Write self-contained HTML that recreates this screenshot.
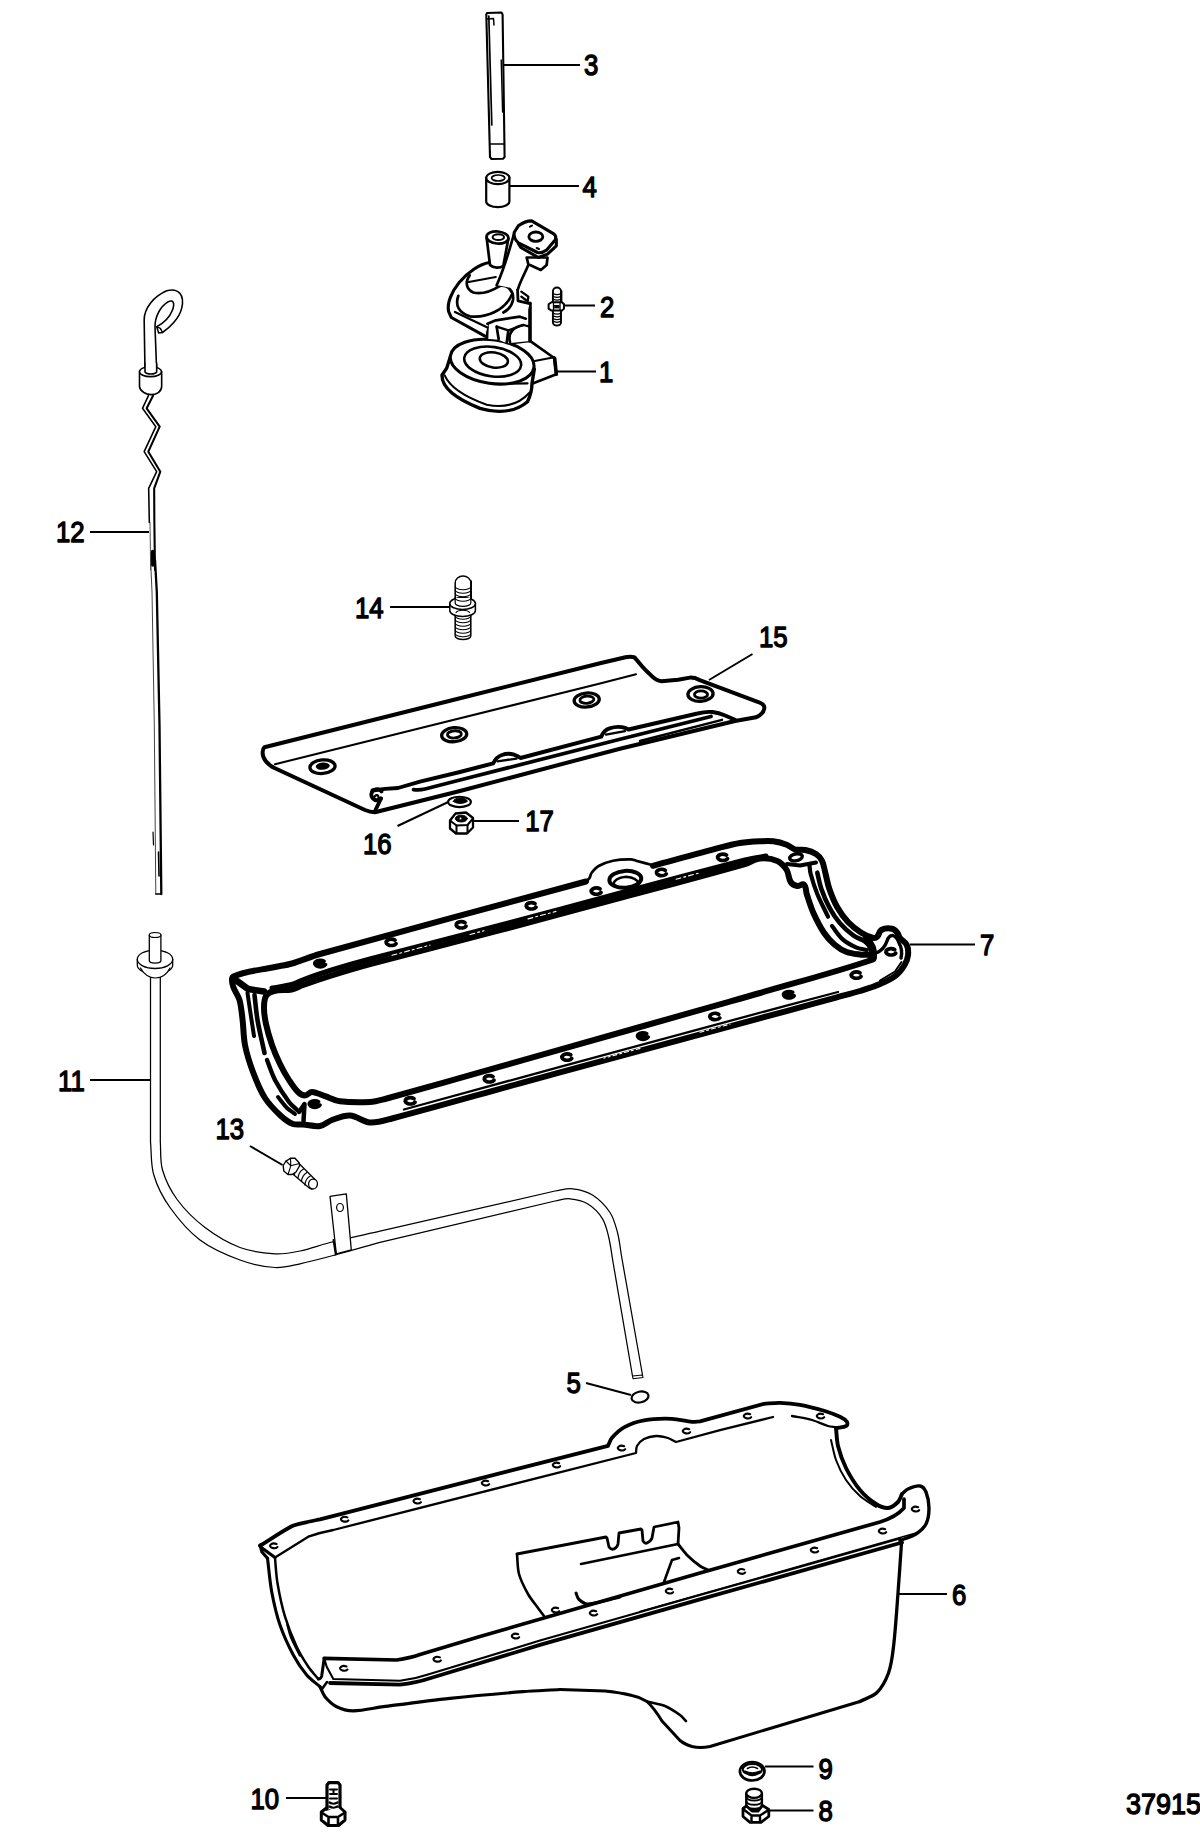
<!DOCTYPE html>
<html><head><meta charset="utf-8"><title>Oil pan and oil pump</title>
<style>
html,body{margin:0;padding:0;background:#fff}
body{width:1200px;height:1832px;overflow:hidden}
svg{display:block}
text{font-family:"Liberation Sans",sans-serif;fill:#000}
.t text{stroke:#000;stroke-width:1.3px;vector-effect:non-scaling-stroke;stroke-linejoin:round}
.l{stroke:#000;fill:none}
g.p{fill:none;stroke:#000;stroke-linecap:round;stroke-linejoin:round}
.w{fill:#fff}
</style></head><body>
<svg width="1200" height="1832" viewBox="0 0 1200 1832">
<rect width="1200" height="1832" fill="#fff"/>
<g id="leaders" class="l" stroke-width="2">
<path d="M504 65H580"/><path d="M510 186H579"/><path d="M563 305.5H595"/><path d="M556 371.5H596"/>
<path d="M90 532H149"/><path d="M390 607H450"/><path d="M752.5 654L709 680"/><path d="M397.5 826L452.5 800"/>
<path d="M474 821H519"/><path d="M910 944.5H975"/><path d="M90 1080H150"/><path d="M250 1146L282.5 1165"/>
<path d="M586 1383L631 1395"/><path d="M899 1594H947"/><path d="M765 1766.5H813.5"/><path d="M770 1810.5H813.5"/>
<path d="M286 1798H326"/>
</g>
<g id="labels" font-size="29.6" class="t">
<text transform="translate(584.0,75.4) scale(.87,1)">3</text>
<text transform="translate(582.5,196.6) scale(.87,1)">4</text>
<text transform="translate(600.0,316.6) scale(.87,1)">2</text>
<text transform="translate(599.0,382.4) scale(.87,1)">1</text>
<text transform="translate(56.0,542.4) scale(.87,1)">12</text>
<text transform="translate(58.0,1090.8) scale(.87,1)">11</text>
<text transform="translate(355.0,618.1) scale(.87,1)">14</text>
<text transform="translate(759.0,646.8) scale(.87,1)">15</text>
<text transform="translate(363.0,854.1) scale(.87,1)">16</text>
<text transform="translate(525.2,831.4) scale(.87,1)">17</text>
<text transform="translate(980.0,955.1) scale(.87,1)">7</text>
<text transform="translate(215.5,1139.1) scale(.87,1)">13</text>
<text transform="translate(566.5,1392.8) scale(.87,1)">5</text>
<text transform="translate(952.0,1604.6) scale(.87,1)">6</text>
<text transform="translate(818.5,1778.6) scale(.87,1)">9</text>
<text transform="translate(818.5,1820.6) scale(.87,1)">8</text>
<text transform="translate(250.5,1808.6) scale(.87,1)">10</text>
<text font-size="30" transform="translate(1126.0,1814.4) scale(.9,1)">37915</text>
</g>

<g id="shaft3" class="p" stroke-width="2.1">
<path class="w" d="M486.3 14.5L487 13L501.5 12.5L502.6 14.5L504.6 157L503 158.8L491.5 159L490 157Z"/>
<path d="M488.8 16L491.8 125" stroke-width="1.7"/>
<path d="M501.2 60L502.6 112" stroke-width="1.4"/>
<path d="M490 144H504.4" stroke-width="1.7"/>
<path d="M487 19L493.5 18.5L494 25" stroke-width="1.5"/>
</g>
<g id="bush4" class="p" stroke-width="2.2">
<path class="w" d="M486.2 178V201.5A11.6 5.6 0 0 0 509.4 201.5V178"/>
<ellipse class="w" cx="497.8" cy="178" rx="11.6" ry="6.2"/>
<ellipse cx="498.2" cy="178" rx="6.6" ry="3" stroke-width="1.7"/>
</g>
<g id="stud2" class="p" stroke-width="1.9">
<path class="w" d="M552.9 291.5A4 4 0 0 1 561 291.5V322.5A4 3 0 0 1 552.9 322.5Z"/>
<path d="M553 293.5q4 2.4 8 0M553 296.2q4 2.4 8 0M553 298.9q4 2.4 8 0M553 313q4 2.4 8 0M553 315.7q4 2.4 8 0M553 318.4q4 2.4 8 0M553 321.1q4 2.4 8 0" stroke-width="1.2"/>
<path d="M561.6 291V301" stroke-width="1.6"/>
<path class="w" d="M548.6 304.3L551.5 302.2H562L564 304.3V308.6L562 310.6H551.5L548.6 308.6Z" stroke-width="2"/>
<path d="M553.5 303V310M560 303V310" stroke-width="1.3"/>
<path d="M554.5 305.5h4.5v2.4h-4.5z" fill="#000" stroke-width="1"/>
</g>

<g id="pump1" class="p" transform="translate(430,210) scale(.166667)" stroke-width="16.2">
<!-- bracket right of screen -->
<path class="w" d="M470 800L600 785L745 888L758 985L612 1042L560 960Z"/>
<path d="M628 906L745 884" stroke-width="12.3"/>
<path d="M748 890L758 985" stroke-width="21.6"/>
<!-- screen bowl -->
<path class="w" d="M122 880L100 950L72 990C70 1060 150 1130 300 1190C420 1225 520 1205 585 1150C605 1110 612 1070 612 1040L626 955Z" stroke-width="20.1"/>
<path d="M88 992C120 1065 220 1125 340 1168C450 1190 540 1160 598 1095" stroke-width="12.3"/>
<path d="M375 1043L585 1040" stroke-width="13.9"/>
<ellipse class="w" cx="373" cy="910" rx="253" ry="131" transform="rotate(8 373 910)" stroke-width="18.5"/>
<ellipse cx="376" cy="910" rx="172" ry="88" transform="rotate(8 376 910)" stroke-width="15.4"/>
<ellipse cx="383" cy="900" rx="85" ry="45" transform="rotate(8 383 900)" stroke-width="15.4"/>
<!-- column between body and screen -->
<path class="w" d="M345 680L342 772L410 778L462 800L600 786L600 560L530 540L345 640Z" stroke="none"/>
<path d="M345 680L342 770M400 700L412 775M470 722L460 798"/>
<path d="M400 700L470 722L560 690L600 700" stroke-width="13.9"/>
<path d="M480 792C465 740 500 700 560 690"/>
<path d="M600 560V786" stroke-width="21.6"/>
<!-- pump body dome -->
<path class="w" d="M355 315C300 325 230 370 175 435C130 490 100 560 112 610L128 645L330 757L350 682L540 640L575 650L598 560L525 540L525 470L590 330L500 150L440 300Z" stroke="none"/>
<path d="M355 315C300 325 230 370 175 435C130 490 100 560 112 610L128 645L330 757" stroke-width="18.5"/>
<path d="M150 612L345 705" stroke-width="13.9"/>
<path d="M345 682L395 662L540 640L575 652"/>
<path d="M238 392C210 430 215 475 260 495C320 510 380 480 420 455"/>
<path d="M232 432L395 402" stroke-width="12.3"/>
<path d="M170 515C150 570 170 615 240 638C340 650 450 600 490 510" />
<path d="M420 455C470 450 505 490 498 540C490 580 470 600 440 615"/>
<!-- right of body details -->
<path d="M525 470L528 545L598 562" stroke-width="16.9"/>
<path d="M548 490L590 520L585 555M548 520L575 540" stroke-width="13.9"/>
<!-- left tube -->
<path class="w" d="M340 168L360 330C380 350 420 350 440 335L470 172Z"/>
<ellipse class="w" cx="405" cy="165" rx="66" ry="36" transform="rotate(5 405 165)"/>
<ellipse cx="410" cy="163" rx="34" ry="17" stroke-width="12.3"/>
<!-- arm -->
<path class="w" d="M500 150C480 230 440 360 400 450L525 475L590 330L560 250Z" stroke="none"/>
<path d="M502 150C480 230 440 360 400 452"/>
<path d="M590 330C565 390 540 430 528 475"/>
<!-- block under head -->
<path class="w" d="M580 285L590 325L665 360L700 330L705 285Z"/>
<!-- head plate -->
<path class="w" d="M530 200L545 225L650 285L705 265L758 215L758 175L700 200Z" stroke-width="18.5"/>
<path class="w" d="M505 135L530 95Q570 65 610 65L745 145Q760 160 752 178L700 240Q670 262 645 255L530 197Q500 170 505 135Z" stroke-width="18.5"/>
<ellipse cx="635" cy="160" rx="42" ry="28" stroke-width="16.9"/>
<path d="M600 100l12 -6M640 228l14 6" stroke-width="12.3"/>
</g>

<g id="dip12a" class="p" transform="translate(40,270) scale(.166667)" stroke-width="9.6">
<!-- handle loop -->
<path d="M630 605L625 300C625 230 680 160 760 125C830 105 870 150 850 230C835 290 780 345 735 375"/>
<path d="M700 605L690 340C690 280 720 220 770 190C800 175 810 200 795 240C775 290 740 320 700 340"/>
<path d="M700 340L712 378L735 375L722 350Z" stroke-width="9"/>
<!-- collar -->
<path class="w" d="M597 612V700C600 730 640 748 665 748C700 748 728 730 730 700V612"/>
<ellipse class="w" cx="663" cy="610" rx="66" ry="30"/>
<path class="w" d="M630 560V612C640 625 690 625 700 612V560Z" stroke="none"/>
<path d="M630 560V612C640 628 690 628 700 612V560"/>
<!-- zigzag -->
<path d="M650 755L615 830L695 940L625 1090L700 1210L652 1310L656 1515" stroke-width="9.4"/>
<path d="M660 1515L664 1800" stroke-width="5.5" stroke="#444"/>
<path d="M678 755L640 830L718 940L650 1090L722 1210L685 1310L686 1500L690 1800" stroke-width="12.5"/>
<path d="M676 1690V1770" stroke-width="22"/>
</g>
<g id="dip12b" class="p">
<path d="M150.6 560L152 592L154.3 725L155.8 894" stroke-width="1" stroke="#444"/>
<path d="M155 560L156.8 592L159.5 725L161.3 894" stroke-width="2.3"/>
<path d="M155.8 894H161.3" stroke-width="1.4"/>
<path d="M158.5 852L159 876" stroke-width="1.6"/>
<path d="M153 832L153.5 845" stroke-width="1.2"/>
</g>

<g id="tube11" class="p" stroke-width="1.25">
<path d="M150.5 972V1142C151.6 1152.9 150.6 1164.5 153.8 1175.0C157.2 1186.5 163.0 1197.7 170.0 1207.5C178.5 1219.4 188.3 1231.2 200.0 1240.0C211.8 1248.9 226.1 1254.9 240.0 1260.0C251.1 1264.1 263.2 1266.8 275.0 1267.5C283.3 1268.0 291.8 1265.5 300.0 1263.8C311.7 1261.3 323.5 1258.1 335.0 1255.0C349.9 1251.0 365.1 1246.5 380.0 1242.3L555 1201C560.0 1200.3 565.0 1198.3 570.0 1198.8C576.0 1199.3 582.4 1200.6 587.5 1203.8C593.5 1207.4 598.8 1212.8 602.5 1218.8C606.0 1224.3 607.2 1231.2 608.8 1237.5C610.7 1245.5 611.6 1253.9 613.0 1262.0L632.5 1376"/>
<path d="M160.3 972V1142C161.0 1151.2 159.9 1161.1 162.5 1170.0C165.6 1180.6 170.9 1191.1 177.5 1200.0C185.1 1210.3 194.8 1219.7 205.0 1227.5C215.6 1235.5 227.5 1242.8 240.0 1247.5C251.0 1251.6 263.3 1253.1 275.0 1253.8C283.3 1254.2 291.9 1252.7 300.0 1251.0C310.1 1248.9 320.0 1245.0 330.0 1242.5C346.4 1238.4 363.5 1234.9 380.0 1231.2L555 1191C560.8 1190.3 566.7 1188.1 572.5 1188.8C579.4 1189.5 586.7 1191.3 592.5 1195.0C599.4 1199.4 605.5 1205.7 610.0 1212.5C613.9 1218.4 615.7 1225.7 617.5 1232.5C619.5 1240.1 620.2 1248.2 621.5 1256.0L642.5 1375"/>
<path d="M632.5 1376L642.5 1375L643 1377.5L633 1378.7Z" stroke-width="1.1"/>
<!-- top -->
<path class="w" d="M137.3 959.5V965A17.7 9.2 0 0 0 172.7 965V959.5" stroke-width="1.3"/>
<path class="w" d="M140.5 968C145 976 150 978 155.4 978C161 978 166 976 170 968" stroke-width="1.2"/>
<ellipse class="w" cx="155" cy="959.3" rx="17.7" ry="9.2" stroke-width="1.3"/>
<path class="w" d="M149.3 935V960.5A5.8 2.6 0 0 0 160.9 960.5V935" stroke-width="1.3"/>
<ellipse class="w" cx="155.1" cy="935" rx="5.8" ry="2.5" stroke-width="1.2"/>
<!-- bracket -->
<path class="w" d="M330 1196.3L346.3 1193.8L351.3 1250L336.3 1253.8Z" stroke-width="1.3"/>
<path d="M333.5 1240L335.8 1254.5" stroke-width="2"/>
<ellipse cx="340" cy="1207.5" rx="3.4" ry="4" stroke-width="1.2"/>
</g>
<g id="ball5" class="p" stroke-width="2.2">
<ellipse cx="640" cy="1397" rx="8.6" ry="5.4" transform="rotate(-12 640 1397)"/>
</g>

<g id="baffle15" class="p" stroke-width="4">
<!-- outline -->
<path class="w" d="M264.4 747.3L450 700.8L600 663.3L625.5 657.2Q631 656 634.5 657.4L642 666.3Q646 671 651 675.3Q656 680.5 661.5 681.2L678 679.8L690 677.6Q695 677.5 699 679.8L759 702.3Q765 705 764.3 708.5Q763.5 714 756 717.3L735 721L620 748.7L460 791L400 806L375 812.2Q370 812 365 810L275 768.3Q266 764 263.3 756.7Q261.5 750 264.4 747.3Z"/>
<!-- fold line -->
<path d="M275 764.2L450 720.8L600 683.5L636 674.2" stroke-width="2.1"/>
<!-- channel line a with bumps -->
<path d="M381 798.5L375.5 810" stroke-width="3.9"/>
<path d="M381.5 791.5A5.6 5.6 0 1 0 381 798.5" stroke-width="3.9"/>
<path d="M372.5 790.5Q385 788.5 398 788L420 781.7L460 772L493.3 763.3Q496 757 502 755Q508 752.6 514 754.6Q518 756 520.5 758L601.3 736.7Q604 730 609.5 728.4Q616 726.2 622 727.2Q626 728 628.5 729.5L697.5 713.5Q706 711.3 712.5 712Q719 713 724.5 715.2L735 719.8" stroke-width="3.9"/>
<path d="M497.5 761.3L516.5 758.6M606 734.6L625 731.2" stroke-width="2.3"/>
<!-- line b -->
<path d="M413.5 789.6Q420 790.2 425 789L460 780L620 739.3L711 716.5" stroke-width="3.7"/>
<!-- line between b and c -->
<path d="M640 741L722 719.8" stroke-width="2.4"/>
<path d="M376.7 795.2a2.2 3 20 1 0 0.1 0" stroke-width="2.3"/>
</g>
<g id="bholes" class="p" stroke-width="3.3">
<ellipse cx="322.5" cy="766.7" rx="12.6" ry="6.8" transform="rotate(-5 322.5 766.7)"/>
<ellipse cx="322.8" cy="766.2" rx="7" ry="3.6" fill="#000" stroke="none" transform="rotate(-5 322.5 766.7)"/>
<ellipse cx="454.2" cy="734.7" rx="12.6" ry="7" transform="rotate(-5 454.2 734.7)"/>
<ellipse cx="454.4" cy="734.4" rx="7" ry="3.6" stroke-width="2.8" transform="rotate(-5 454.2 734.7)"/>
<ellipse cx="586.7" cy="700" rx="12.6" ry="7" transform="rotate(-5 586.7 700)"/>
<ellipse cx="586.9" cy="699.7" rx="7" ry="3.6" stroke-width="2.8" transform="rotate(-5 586.7 700)"/>
<ellipse cx="700.5" cy="694" rx="12.6" ry="7.3" transform="rotate(-3 700.5 694)"/>
<ellipse cx="701" cy="694.5" rx="6.6" ry="3.6" stroke-width="2.8"/>
</g>

<g id="stud14" class="p" stroke-width="1.3">
<path class="w" d="M455.2 583A7.8 7 0 0 1 470.8 583V636A7.8 3.5 0 0 1 455.2 636Z" stroke-width="1.5"/>
<path d="M455.2 586.5a7.8 3.2 0 0 0 15.6 0M455.2 590a7.8 3.2 0 0 0 15.6 0M455.2 593.5a7.8 3.2 0 0 0 15.6 0M455.2 597a7.8 3.2 0 0 0 15.6 0M455.2 600.5a7.8 3.2 0 0 0 15.6 0M455.2 616a7.8 3.2 0 0 0 15.6 0M455.2 619.5a7.8 3.2 0 0 0 15.6 0M455.2 623a7.8 3.2 0 0 0 15.6 0M455.2 626.5a7.8 3.2 0 0 0 15.6 0M455.2 630a7.8 3.2 0 0 0 15.6 0M455.2 633.5a7.8 3.2 0 0 0 15.6 0" stroke-width="1.1"/>
<path d="M471.3 581V598" stroke-width="1.4"/>
<path class="w" d="M449.8 603.5V610.5A12.8 6 0 0 0 475.4 610.5V603.5" stroke-width="1.5"/>
<ellipse class="w" cx="462.6" cy="603.5" rx="12.8" ry="6" stroke-width="1.5"/>
<path class="w" d="M455.2 598V603A7.8 3.4 0 0 0 470.8 603V598" stroke-width="1.2"/>
<path d="M455.2 598a7.8 3.2 0 0 0 15.6 0" stroke-width="1.1"/>
<path d="M456 612.5a7 3 0 0 1 13.6 0" stroke-width="1.1"/>
</g>
<g id="washer16" class="p" stroke-width="2.1">
<ellipse class="w" cx="459.5" cy="801.9" rx="11.4" ry="5.2"/>
<path d="M453.3 801.5A7 3.6 0 0 1 467.3 801.5Q460 805.5 453.3 801.5Z" fill="#000" stroke-width="1"/>
</g>
<g id="nut17" class="p" stroke-width="2.3">
<path class="w" d="M450 820.5L455.5 813.5L466 812.5L473 818L473 827.5L467 833.5L456 833.5L450 828.5Z"/>
<path d="M450 820.5L456.5 825.5L467.5 825L473 818.5" stroke-width="2"/>
<path d="M456.5 825.5V833M467.5 825V833" stroke-width="2"/>
<ellipse cx="461.3" cy="818.6" rx="6" ry="3.4" fill="#000" stroke-width="1"/>
<circle cx="460.5" cy="818.4" r="1" fill="#fff" stroke="none"/>
</g>
<g id="bolt13" class="p" stroke-width="1.3">
<path class="w" d="M298 1162.5L315 1179.5A4.5 5 0 0 1 309 1187.8L291.5 1173Z"/>
<ellipse class="w" cx="313" cy="1184" rx="4.4" ry="4.9" transform="rotate(10 313 1184)"/>
<path d="M300 1165.5q-5 3 -5.5 9M303.5 1169q-5 3 -5.5 9M307 1172.5q-5 3 -5.5 9M310.3 1176q-5 3 -5.5 9" stroke-width="1.2"/>
<path class="w" d="M283.2 1165.5L286 1161L290.5 1158.3L295 1158.3L299.3 1163L299.5 1166L296 1172L292 1174.5L288 1174.5L283.8 1171Z" stroke-width="1.4"/>
<path d="M290.5 1158.3L290.8 1165.8L288 1174.5M290.8 1165.8L299.3 1163.5M286 1161L290.8 1165.8" stroke-width="1.1"/>
</g>

<g id="gasket7" class="p" stroke-width="6">
<path d="M653.0 865.8C675.1 859.8 697.8 853.4 720.0 847.6C726.6 845.9 733.3 844.1 740.0 843.0C746.5 842.0 753.4 841.6 760.0 841.3C764.4 841.1 768.9 840.7 773.3 841.3C777.8 841.9 782.4 843.1 786.7 844.7C789.6 845.8 791.8 848.5 794.7 849.3C798.1 850.3 801.9 849.2 805.3 850.0C809.0 850.8 812.8 852.0 816.0 854.0C818.5 855.6 820.7 858.0 822.0 860.7C823.8 864.4 824.3 868.7 825.3 872.7C826.7 878.0 827.5 883.6 829.3 888.7C831.5 895.0 834.0 901.5 837.3 907.3C840.2 912.5 843.9 917.6 848.0 922.0C851.9 926.1 856.5 929.7 861.3 932.7C865.0 935.0 869.1 937.0 873.3 938.0C874.6 938.3 876.3 937.7 877.3 936.7C879.1 934.9 879.0 931.2 881.3 930.0C884.4 928.3 888.5 928.1 892.0 928.7C894.2 929.1 895.9 931.0 897.3 932.7C898.6 934.2 898.8 936.5 900.0 938.0C901.9 940.5 905.4 941.9 906.7 944.7C908.2 947.9 908.4 951.8 908.0 955.3C907.7 958.6 906.4 961.9 904.7 964.7C902.4 968.6 899.6 972.5 896.0 975.3C891.3 979.0 885.5 981.6 880.0 984.0C873.6 986.8 866.7 988.9 860.0 991.0C851.8 993.5 843.2 995.5 835.0 997.8C819.3 1002.1 803.2 1006.6 787.5 1010.8C712.4 1031.1 635.1 1052.0 560.0 1072.3C546.8 1075.9 533.2 1079.7 520.0 1083.3C477.8 1094.9 434.4 1107.4 392.0 1118.5C384.9 1120.4 377.4 1123.0 370.0 1122.5C363.0 1122.0 357.0 1116.0 350.0 1115.5C343.9 1115.1 337.8 1118.0 332.0 1120.0C327.8 1121.5 324.4 1125.3 320.0 1126.0C314.4 1126.9 308.6 1124.9 303.0 1124.5C299.7 1124.3 296.1 1125.2 293.0 1124.0C288.6 1122.3 284.5 1119.2 281.0 1116.0C275.2 1110.6 269.3 1104.7 265.0 1098.0C259.9 1090.0 256.3 1080.8 253.0 1072.0C249.7 1063.3 246.8 1054.1 245.0 1045.0C243.4 1036.9 243.6 1028.2 242.6 1020.0C241.8 1013.4 241.3 1006.4 239.5 1000.0C238.1 995.1 234.3 990.9 233.0 986.0C232.2 983.0 230.6 977.8 233.5 976.5C246.3 970.7 261.3 970.0 275.0 967.0C280.6 965.8 286.5 965.1 292.0 963.5C301.4 960.8 310.6 956.6 320.0 954.0C407.6 929.6 498.2 905.4 586.0 881.5" stroke-width="6"/>
<path d="M586.0 881.5C587.2 880.3 588.6 879.4 589.5 878.0C590.5 876.5 590.4 874.4 591.5 873.0C593.5 870.4 595.8 867.6 598.7 866.0C603.1 863.5 608.1 861.7 613.0 860.7C618.7 859.5 624.8 859.2 630.7 859.3C632.9 859.3 634.9 860.4 637.0 861.0C642.3 862.4 647.7 863.9 653.0 865.3" stroke-width="2.7"/>
<path d="M266.0 996.0C267.6 993.3 271.0 991.8 274.0 991.0C279.7 989.6 286.0 990.6 291.7 989.5C295.4 988.8 298.9 986.6 302.5 985.3C311.5 982.1 320.9 978.9 330.0 976.0C343.1 971.9 356.7 967.8 370.0 964.2C412.8 952.7 457.1 941.5 500.0 930.2C541.3 919.2 583.8 907.8 625.0 896.7C664.6 886.0 705.5 875.2 745.0 864.0C750.1 862.6 754.7 859.0 760.0 858.5C765.7 858.0 772.0 858.7 777.3 861.0C781.2 862.7 784.4 866.4 786.7 870.0C788.9 873.5 788.4 878.5 790.7 882.0C792.1 884.1 794.8 885.5 797.3 886.0C799.5 886.4 802.3 883.2 804.0 884.7C806.4 886.8 805.7 891.0 806.7 894.0C808.8 900.2 810.6 906.7 813.3 912.7C816.4 919.5 819.8 926.5 824.0 932.7C826.9 937.1 830.7 941.3 834.7 944.7C838.2 947.7 842.4 950.4 846.7 952.0C851.3 953.7 856.4 954.0 861.3 954.7C864.4 955.1 867.8 954.1 870.7 955.3C872.2 955.9 874.5 959.0 873.0 959.5C836.2 972.0 797.3 982.1 760.0 993.0C746.8 996.9 733.2 1000.6 720.0 1004.3C667.2 1019.3 612.8 1034.7 560.0 1049.7C540.2 1055.3 519.8 1061.1 500.0 1066.7C462.1 1077.4 423.0 1088.7 385.0 1099.0C380.1 1100.3 375.0 1101.8 370.0 1102.0C360.1 1102.5 349.8 1102.5 340.0 1101.2C334.8 1100.5 330.0 1097.8 325.0 1096.2C320.7 1094.8 316.5 1092.2 312.0 1092.0C309.4 1091.9 307.6 1095.5 305.0 1095.5C302.4 1095.5 299.9 1093.8 298.0 1092.0C294.4 1088.6 291.7 1084.2 289.0 1080.0C285.7 1074.9 282.6 1069.4 280.0 1064.0C277.0 1057.9 274.2 1051.4 272.0 1045.0C269.6 1038.2 267.5 1031.0 266.0 1024.0C264.9 1018.8 264.0 1013.3 264.0 1008.0C264.0 1004.0 264.0 999.5 266.0 996.0Z" stroke-width="6"/>
<path d="M272.0 988.0C278.5 986.8 285.3 986.2 291.7 984.5C295.4 983.5 298.9 981.3 302.5 980.0C311.5 976.7 320.8 973.4 330.0 970.5C343.1 966.4 356.7 962.5 370.0 959.0C412.8 947.6 457.1 936.5 500.0 925.2C541.3 914.3 583.7 902.7 625.0 891.7C664.6 881.2 705.3 870.1 745.0 860.0C751.8 858.3 759.1 857.3 766.0 856.0" stroke-width="5"/>
<path d="M392 955.3L430 945.1M528 918.9L556 911.4M676 879.2L700 872.8M470 934.5L484 930.7" stroke="#fff" stroke-width="1.1" stroke-dasharray="5 3 2 3"/>
<path d="M838 992L787.5 1005.3L560 1066.8L520 1077.8L404 1109.5" stroke-width="2.3"/>
<path d="M640 1048.4L604 1058.1M700 1032.2L730 1024.1" stroke="#fff" stroke-width="1.1" stroke-dasharray="4 3 2 3"/>
<path d="M247.5 993.0C248.3 998.6 249.2 1004.4 250.0 1010.0C251.3 1018.6 252.7 1027.4 254.0 1036.0" stroke-width="4"/>
<path d="M254.5 995.0C255.5 1003.2 256.1 1011.8 257.5 1020.0C259.4 1031.0 262.2 1042.1 264.5 1053.0" stroke-width="4.6"/>
<path d="M267.0 1060.0C269.6 1066.6 271.7 1073.7 275.0 1080.0C279.0 1087.6 283.9 1095.1 289.0 1102.0C291.2 1105.0 294.4 1107.4 297.0 1110.0" stroke-width="4.4"/>
<path d="M278.0 1097.0C281.0 1100.6 283.7 1104.7 287.0 1108.0C289.3 1110.3 292.4 1112.0 295.0 1114.0" stroke-width="4"/>
<path d="M237 981L248 989L264 991.5" stroke-width="6.5"/>
<path d="M299 1112L304.5 1104L303.5 1121" stroke-width="4.5"/>
<path d="M809.3 864.0C809.8 867.3 809.8 870.8 810.7 874.0C812.5 880.7 814.7 887.6 817.3 894.0C820.4 901.7 824.5 909.2 828.0 916.7" stroke-width="4.2"/>
<path d="M832.0 926.0C835.5 930.4 838.5 935.6 842.7 939.3C846.5 942.7 851.3 945.2 856.0 947.3C859.3 948.8 863.2 949.1 866.7 950.0" stroke-width="4.2"/>
<path d="M817.3 872.7C818.6 878.0 819.5 883.6 821.3 888.7C823.5 895.0 826.1 901.4 829.3 907.3C832.3 912.9 835.9 918.5 840.0 923.3C843.8 927.8 848.5 931.9 853.3 935.3C857.3 938.1 862.3 939.8 866.7 942.0" stroke-width="4.6"/>
<path d="M787 864L800 865.5L816 862.5" stroke-width="4"/>
<ellipse cx="796" cy="857.3" rx="6.4" ry="3.4" transform="rotate(-12 796 857.3)" stroke-width="3.4"/>
<path d="M866 940Q874 946 873 957" stroke-width="8"/>
<path d="M876 953Q884 950 887 941Q889 935 893 935.5Q897 937 899 943Q903 950 901 958" stroke-width="3.4"/>
<path d="M901.5 962L895 971.5L880 980.5" stroke-width="2"/>
<ellipse cx="625.3" cy="879.3" rx="16" ry="8.4" stroke-width="4" transform="rotate(-4 625.3 879.3)"/>
<path d="M613.5 884.5Q614 878 626 876.8Q637 877.5 639 884M613.5 884.5Q617 888 623 887.5" stroke-width="2.6"/>
</g>
<g id="gholes" class="p" stroke-width="3.8">
<path d="M324.2 961.1a5.6 3.4 0 1 0 1.5 3.4l-4.5 -.4l.3 -2.4z" fill="#000" stroke-width="3.4"/>
<path d="M395.0 940.1a5.2 3.1 0 1 0 1 3.6"/>
<path d="M465.0 922.6a5.2 3.1 0 1 0 1 3.6"/>
<path d="M535.0 903.6a5.2 3.1 0 1 0 1 3.6"/>
<path d="M600.0 888.9a5.2 3.1 0 1 0 1 3.6"/>
<path d="M665.3 870.3a5.2 3.1 0 1 0 1 3.6"/>
<path d="M726.5 855.1a5.2 3.1 0 1 0 1 3.6"/>
<path d="M318.7 1101.6a5.6 3.4 0 1 0 1.5 3.4l-4.5 -.4l.3 -2.4z" fill="#000" stroke-width="3.4"/>
<path d="M414.0 1098.6a5.2 3.1 0 1 0 1 3.6"/>
<path d="M493.0 1076.6a5.2 3.1 0 1 0 1 3.6"/>
<path d="M570.7 1054.9a5.2 3.1 0 1 0 1 3.6"/>
<path d="M646.9 1033.6a5.6 3.4 0 1 0 1.5 3.4l-4.5 -.4l.3 -2.4z" fill="#000" stroke-width="3.4"/>
<path d="M718.7 1014.3a5.2 3.1 0 1 0 1 3.6"/>
<path d="M792.9 992.3a5.6 3.4 0 1 0 1.5 3.4l-4.5 -.4l.3 -2.4z" fill="#000" stroke-width="3.4"/>
<path d="M860.0 972.9a5.2 3.1 0 1 0 1 3.6"/>
<path d="M894.7 949.6a5.2 3.1 0 1 0 1 3.6"/>
</g>

<g id="pan6" class="p" stroke-width="2.6">
<path transform="translate(0,.8)" d="M260.0 1545.0C268.4 1539.9 283.0 1530.0 291.7 1525.5C295.2 1523.7 302.2 1522.4 306.0 1521.5C309.7 1520.6 316.3 1519.3 320.0 1518.5 L608 1445 C609.2 1442.6 610.3 1439.0 612.0 1437.0C615.1 1433.4 619.8 1428.8 624.0 1426.5C629.5 1423.5 637.8 1420.6 644.0 1419.5C652.2 1418.0 663.7 1417.7 672.0 1418.0C678.0 1418.2 686.0 1420.5 692.0 1421.0C694.4 1421.2 697.6 1420.6 700.0 1420.5 L764 1403 C768.8 1402.7 775.2 1401.9 780.0 1402.0C786.0 1402.2 794.1 1402.9 800.0 1404.0C807.2 1405.3 817.0 1407.9 824.0 1410.0C828.9 1411.5 835.4 1413.8 840.0 1416.0C842.3 1417.1 845.5 1418.9 847.0 1421.0C847.7 1422.0 847.5 1424.4 846.5 1425.0C843.7 1426.6 839.1 1426.6 836.0 1427.3" stroke-width="3.8"/>
<path d="M275 1557.5L308.3 1536.7Q320 1532.5 333.3 1530L636 1453C636.3 1450.9 636.0 1447.8 637.0 1446.0C638.5 1443.4 641.4 1440.4 644.0 1439.0C647.3 1437.3 652.3 1436.2 656.0 1436.0C659.6 1435.8 664.5 1437.0 668.0 1438.0C670.5 1438.8 673.6 1440.8 676.0 1442.0 L720 1430.2L773 1417" stroke-width="2.3"/>
<path d="M792.0 1416.0C797.9 1417.2 806.2 1418.4 812.0 1420.0C816.9 1421.4 823.1 1424.5 828.0 1426.0C830.3 1426.7 833.6 1426.9 836.0 1427.3" stroke-width="2.3"/>
<path d="M260 1545L262 1552L267.5 1558.3M262 1548L275 1557.5" stroke-width="3.2"/>
<path d="M267.5 1558.3C268.9 1569.3 269.7 1580.8 271.7 1591.7C273.8 1602.8 276.3 1614.3 280.0 1625.0C283.5 1635.2 288.2 1645.4 293.3 1655.0C297.0 1662.0 301.6 1668.9 306.7 1675.0C310.5 1679.5 315.6 1682.8 320.0 1686.7" stroke-width="3.1"/>
<path d="M275.0 1558.0C275.8 1566.3 276.1 1575.0 277.5 1583.3C279.4 1594.4 281.7 1605.9 285.0 1616.7C288.1 1626.9 292.2 1637.1 296.7 1646.7C299.9 1653.6 304.1 1660.4 308.3 1666.7C311.2 1671.0 315.0 1674.9 318.3 1679.0" stroke-width="2.5"/>
<path d="M287.5 1625.0C288.7 1629.0 289.4 1633.2 291.0 1637.0C293.6 1643.3 297.0 1649.4 300.0 1655.5" stroke-width="2.5"/>
<path d="M318.3 1679Q321 1679 321.7 1676L324.2 1658.3" stroke-width="3.0"/>
<path d="M324.2 1658.3L396.7 1660Q410 1658 420 1654.5L480 1636.5L700 1573L880 1522Q896 1517 904 1508L904 1499" stroke-width="3.7"/>
<path d="M324.2 1658.3L326.7 1666.7L333.3 1679L400 1680.8Q415 1679 428 1674.5L540 1640.6L700 1595.1L900 1538.5" stroke-width="2.1"/>
<path d="M330 1683L400 1684.6Q416 1683 430 1678.3L540 1644.9L700 1599.4L902 1542.5" stroke-width="3.8"/>
<path d="M916 1533L760 1577.5L640 1611.5" stroke-width="1.6"/>
<path d="M902.0 1494.0C903.8 1492.5 905.9 1489.9 908.0 1489.0C911.4 1487.5 916.4 1485.4 920.0 1486.0C922.5 1486.4 925.0 1489.7 926.0 1492.0C927.8 1496.5 929.0 1503.2 929.0 1508.0C929.0 1512.8 928.2 1519.7 926.0 1524.0C924.1 1527.8 919.5 1531.7 916.0 1534.0C911.7 1536.7 904.8 1538.6 900.0 1540.5" stroke-width="3.4"/>
<path d="M836.0 1428.0C836.6 1433.3 836.7 1440.8 838.0 1446.0C839.7 1452.7 842.9 1461.8 846.0 1468.0C849.5 1474.9 855.0 1484.1 860.0 1490.0C864.0 1494.9 870.7 1500.6 876.0 1504.0C879.2 1506.0 884.3 1508.3 888.0 1508.0C891.4 1507.7 895.6 1504.4 898.0 1502.0C899.9 1500.1 900.8 1496.4 902.0 1494.0" stroke-width="3.9"/>
<path d="M831.0 1440.0C832.5 1445.9 833.9 1454.3 836.0 1460.0C838.3 1466.2 842.3 1474.5 846.0 1480.0C849.5 1485.3 855.3 1491.8 860.0 1496.0C864.3 1499.9 871.2 1503.7 876.0 1507.0" stroke-width="2.0"/>
<path d="M901.5 1543.0C900.5 1557.8 899.1 1578.2 898.0 1593.0C896.8 1609.0 895.4 1630.8 893.5 1646.7C892.6 1654.6 891.2 1665.5 888.5 1673.0C886.2 1679.3 881.8 1687.7 877.0 1692.5C873.0 1696.5 865.0 1698.8 860.0 1701.5" stroke-width="3.3"/>
<path d="M860 1701.5L710 1746.5Q700 1748.5 692 1746.5Q684 1744 680 1740.5L662 1721Q654 1708 647 1701.5Q640 1697 632 1695.5Q620 1692.5 605 1691L560 1689.5" stroke-width="3.0"/>
<path d="M320.0 1686.7C321.5 1689.7 322.9 1694.2 325.0 1696.7C327.9 1700.2 332.6 1704.7 336.7 1706.7C341.2 1709.0 348.2 1710.8 353.3 1710.8C362.3 1710.8 374.4 1707.9 383.3 1706.7C403.1 1704.1 430.1 1700.4 450.0 1698.3C471.6 1696.0 501.3 1693.4 523.0 1691.7C534.0 1690.8 549.0 1690.2 560.0 1689.5" stroke-width="3.2"/>
<path d="M322 1689L327 1682" stroke-width="2.6"/>
<path d="M647.0 1701.5C652.3 1702.8 659.9 1703.9 665.0 1706.0C669.8 1708.0 675.8 1712.0 680.0 1715.0C682.1 1716.5 684.2 1719.2 686.0 1721.0" stroke-width="2.6"/>
<path d="M517 1554L606 1537L607 1538L609 1547Q611 1550 614 1549Q617.5 1547 618 1544L619 1533L641 1529L642 1530L643 1541Q645 1544 647 1543Q651 1541 652 1538L654 1527L678 1522L679 1528L678 1544" stroke-width="2.8"/>
<path d="M517.0 1554.0C517.6 1559.9 517.4 1568.2 519.0 1574.0C520.7 1580.3 524.8 1588.3 528.0 1594.0C530.5 1598.5 535.0 1603.9 538.0 1608.0C539.7 1610.4 542.2 1613.6 544.0 1616.0" stroke-width="2.6"/>
<path d="M581 1564L678 1544" stroke-width="2.6"/>
<path d="M678.0 1544.0C681.0 1547.6 684.7 1552.7 688.0 1556.0C691.3 1559.3 696.2 1563.3 700.0 1566.0C702.2 1567.5 705.6 1568.8 708.0 1570.0" stroke-width="2.8"/>
<path d="M679 1558L672 1560L664 1582" stroke-width="2.6"/>
<path d="M576.0 1593.0C576.9 1594.9 577.4 1598.1 579.0 1599.5C581.2 1601.5 585.0 1604.2 588.0 1604.0C597.7 1603.4 610.5 1599.1 620.0 1597.0" stroke-width="3.0"/>
</g>
<g id="panholes" class="p" stroke-width="2.1">
<path d="M276.5 1544.0a4 2.3 0 1 0 1 3"/>
<path d="M347.4 1517.4a4 2.3 0 1 0 1 3"/>
<path d="M419.9 1499.2a4 2.3 0 1 0 1 3"/>
<path d="M488.2 1481.2a4 2.3 0 1 0 1 3"/>
<path d="M559.2 1463.2a4 2.3 0 1 0 1 3"/>
<path d="M624.2 1446.2a4 2.3 0 1 0 1 3"/>
<path d="M689.2 1429.2a4 2.3 0 1 0 1 3"/>
<path d="M750.2 1414.2a4 2.3 0 1 0 1 3"/>
<path d="M823.2 1414.2a4 2.3 0 1 0 1 3"/>
<path d="M346.5 1666.5a4 2.3 0 1 0 1 3"/>
<path d="M439.9 1657.4a4 2.3 0 1 0 1 3"/>
<path d="M518.2 1634.2a4 2.3 0 1 0 1 3"/>
<path d="M596.2 1611.2a4 2.3 0 1 0 1 3"/>
<path d="M672.2 1589.2a4 2.3 0 1 0 1 3"/>
<path d="M744.2 1569.6a4 2.3 0 1 0 1 3"/>
<path d="M817.2 1548.2a4 2.3 0 1 0 1 3"/>
<path d="M885.2 1529.2a4 2.3 0 1 0 1 3"/>
<path d="M918.2 1507.2a4 2.3 0 1 0 1 3"/>
<path d="M558.2 1608.2a4 2.3 0 1 0 1 3"/>
</g>

<g id="washer9" class="p" stroke-width="2.7">
<ellipse class="w" cx="752.2" cy="1771.3" rx="12.3" ry="9.2"/>
<ellipse cx="752.4" cy="1769.4" rx="9.6" ry="5.4" stroke-width="2"/>
<path d="M745 1771.5Q752 1779 760 1771.5Q752 1775 745 1771.5Z" fill="#000" stroke-width="2.2"/>
<path d="M747.5 1768.5Q752 1765.5 757.5 1768.5" stroke-width="1.6"/>
</g>
<g id="plug8" class="p" stroke-width="2.4">
<path class="w" d="M746.3 1793.5V1809H761.9V1793.5"/>
<ellipse class="w" cx="754.1" cy="1793.3" rx="7.8" ry="4.6"/>
<path d="M746.5 1797.5a7.8 3.6 0 0 0 15.4 0M746.5 1801.7a7.8 3.6 0 0 0 15.4 0M746.5 1805.8a7.8 3.6 0 0 0 15.4 0" stroke-width="1.9"/>
<path class="w" d="M743 1808.5L746.5 1806L752 1811L758 1811L762.5 1805.5L768.8 1809.5L768.8 1816.5L761 1822.3L750 1822.3L743 1816.5Z" stroke-width="2.8"/>
<path d="M743 1809L751.5 1815.5L760 1815.5L768.5 1810M751.5 1815.5V1822M760 1815.5V1822" stroke-width="2.4"/>
</g>
<g id="bolt10" class="p" stroke-width="3.2">
<path class="w" d="M327 1785L329 1782.6H338L340 1785V1812H327Z"/>
<path d="M330 1789.5h7M333.5 1789.5v3.5M330 1794h7M330 1798.5h7" stroke-width="2"/>
<path d="M329.5 1802.5q4 2.5 8 0M329.5 1806.5q4 2.5 8 0M329.5 1810.5q4 2.5 8 0" stroke-width="2.2"/>
<path class="w" d="M321.3 1812L327 1807.5M340 1807.5L345 1812L345 1820L338.5 1825.5L328 1825.5L321.3 1820L321.3 1812" stroke-width="3"/>
<path d="M321.5 1812.5L328.5 1817L338 1817L345 1812.5M328.5 1817V1825M338 1817V1825" stroke-width="2.6"/>
</g>

</svg>
</body></html>
